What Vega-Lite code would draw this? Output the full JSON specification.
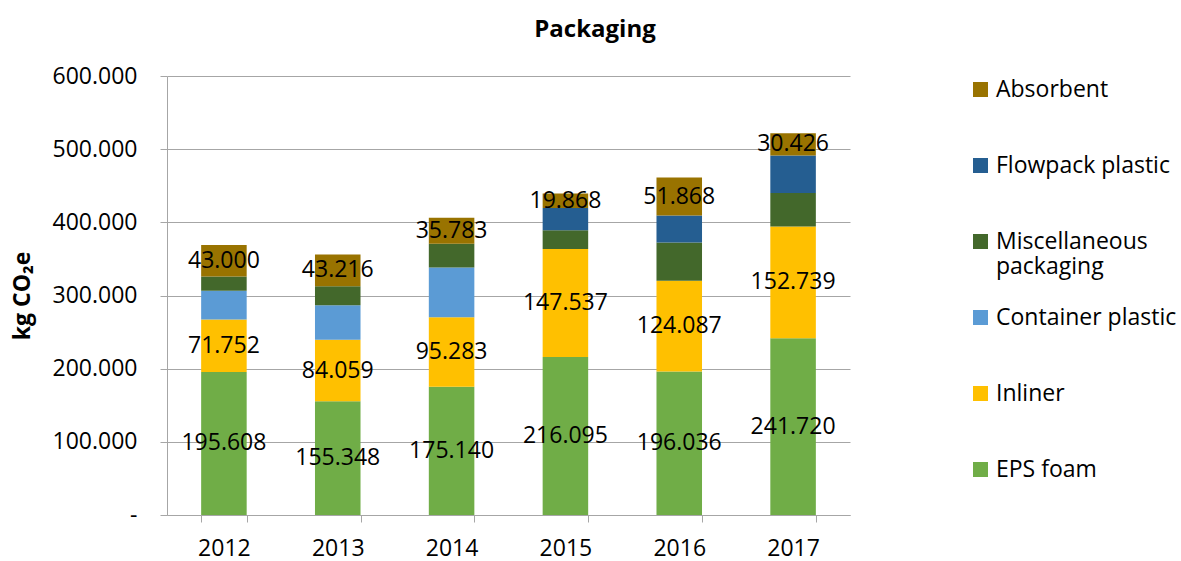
{
  "$schema": "https://vega.github.io/schema/vega-lite/v6.json",
  "width": 683,
  "height": 439,
  "padding": {"left": 11, "top": 18, "right": 5, "bottom": 0},
  "config": {
    "font": "Open Sans",
    "view": {"stroke": null},
    "locale": {"number": {"decimal": ",", "thousands": ".", "grouping": [3], "currency": ["", ""]}}
  },
  "title": {"text": "Packaging", "fontSize": 24, "fontWeight": "bold", "anchor": "middle", "frame": "bounds", "offset": 23, "color": "black", "font": "Open Sans"},
  "data": {"values": [
    {"year": "2012", "category": "EPS foam", "value": 195608},
    {"year": "2012", "category": "Inliner", "value": 71752},
    {"year": "2012", "category": "Container plastic", "value": 39200},
    {"year": "2012", "category": "Miscellaneous packaging", "value": 19500},
    {"year": "2012", "category": "Absorbent", "value": 43000},
    {"year": "2013", "category": "EPS foam", "value": 155348},
    {"year": "2013", "category": "Inliner", "value": 84059},
    {"year": "2013", "category": "Container plastic", "value": 47400},
    {"year": "2013", "category": "Miscellaneous packaging", "value": 26000},
    {"year": "2013", "category": "Absorbent", "value": 43216},
    {"year": "2014", "category": "EPS foam", "value": 175140},
    {"year": "2014", "category": "Inliner", "value": 95283},
    {"year": "2014", "category": "Container plastic", "value": 67900},
    {"year": "2014", "category": "Miscellaneous packaging", "value": 32300},
    {"year": "2014", "category": "Absorbent", "value": 35783},
    {"year": "2015", "category": "EPS foam", "value": 216095},
    {"year": "2015", "category": "Inliner", "value": 147537},
    {"year": "2015", "category": "Miscellaneous packaging", "value": 25400},
    {"year": "2015", "category": "Flowpack plastic", "value": 30600},
    {"year": "2015", "category": "Absorbent", "value": 19868},
    {"year": "2016", "category": "EPS foam", "value": 196036},
    {"year": "2016", "category": "Inliner", "value": 124087},
    {"year": "2016", "category": "Miscellaneous packaging", "value": 52300},
    {"year": "2016", "category": "Flowpack plastic", "value": 36900},
    {"year": "2016", "category": "Absorbent", "value": 51868},
    {"year": "2017", "category": "EPS foam", "value": 241720},
    {"year": "2017", "category": "Inliner", "value": 152739},
    {"year": "2017", "category": "Miscellaneous packaging", "value": 45600},
    {"year": "2017", "category": "Flowpack plastic", "value": 51400},
    {"year": "2017", "category": "Absorbent", "value": 30426}
  ]},
  "transform": [
    {"calculate": "indexof(['EPS foam','Inliner','Container plastic','Miscellaneous packaging','Flowpack plastic','Absorbent'], datum.category)", "as": "ord"},
    {"stack": "value", "groupby": ["year"], "sort": [{"field": "ord", "order": "ascending"}], "as": ["v0", "v1"]},
    {"calculate": "(datum.v0 + datum.v1) / 2", "as": "mid"}
  ],
  "encoding": {
    "x": {
      "field": "year", "type": "ordinal",
      "scale": {"paddingInner": 0.6, "paddingOuter": 0.3},
      "axis": {
        "title": null, "labelAngle": 0, "labelFontSize": 23, "labelColor": "black",
        "tickBand": "extent", "tickSize": 7, "tickColor": "#A6A6A6", "domainColor": "#A6A6A6",
        "labelBaseline": "middle", "labelPadding": 26, "grid": false
      }
    }
  },
  "layer": [
    {
      "mark": {"type": "bar"},
      "encoding": {
        "y": {
          "field": "v0", "type": "quantitative",
          "scale": {"domain": [0, 600000], "nice": false},
          "axis": {
            "title": "kg CO₂e", "titleFontSize": 23, "titleFontWeight": "bold", "titleColor": "black", "titlePadding": 18,
            "values": [0, 100000, 200000, 300000, 400000, 500000, 600000],
            "format": ",.0f", "labelExpr": "datum.value == 0 ? '-' : datum.label",
            "labelFontSize": 23, "labelColor": "black", "labelPadding": 23,
            "tickSize": 7, "tickColor": "#A6A6A6", "domainColor": "#A6A6A6",
            "gridColor": "#A6A6A6", "gridWidth": 1
          }
        },
        "y2": {"field": "v1"},
        "color": {
          "field": "category", "type": "nominal",
          "scale": {
            "domain": ["Absorbent", "Flowpack plastic", "Miscellaneous packaging", "Container plastic", "Inliner", "EPS foam"],
            "range": ["#997300", "#255E91", "#43682B", "#5B9BD5", "#FFC000", "#70AD47"]
          },
          "legend": {
            "title": null, "symbolType": "square", "symbolSize": 225, "symbolStrokeWidth": 0,
            "labelFontSize": 23, "labelColor": "black", "rowPadding": 27, "offset": 117, "padding": 2,
            "labelLimit": 300,
            "labelExpr": "datum.label == 'Miscellaneous packaging' ? ['Miscellaneous', 'packaging'] : [datum.label, '']"
          }
        }
      }
    },
    {
      "transform": [{"filter": {"field": "category", "oneOf": ["EPS foam", "Inliner", "Absorbent"]}}],
      "mark": {"type": "text", "fontSize": 23, "color": "black", "baseline": "middle"},
      "encoding": {
        "y": {"field": "mid", "type": "quantitative"},
        "text": {"field": "value", "type": "quantitative", "format": ",.0f"}
      }
    }
  ]
}
